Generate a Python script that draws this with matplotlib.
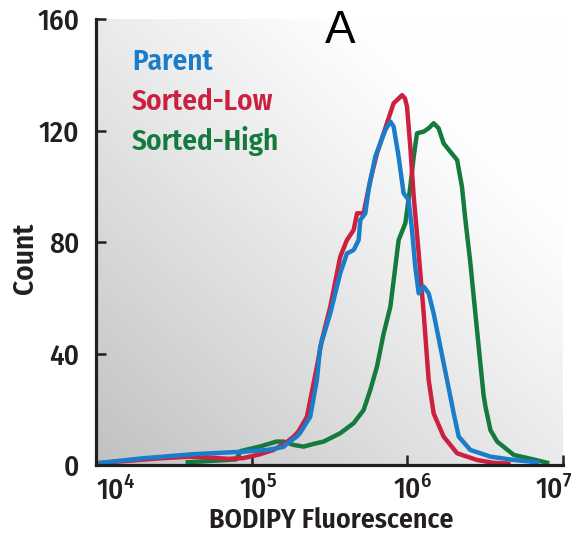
import numpy as np
import matplotlib
matplotlib.use("Agg")
import matplotlib.pyplot as plt
from matplotlib.ticker import FixedLocator, NullLocator
import matplotlib.transforms as mtransforms

# ---------------- data (log10 of fluorescence, counts) ----------------
parent_log = [4.00, 4.30, 4.63, 4.95, 5.10, 5.205, 5.23, 5.29, 5.31, 5.376, 5.419, 5.44,
              5.505, 5.569, 5.612, 5.655, 5.687, 5.698, 5.73, 5.751, 5.794, 5.826, 5.859,
              5.891, 5.912, 5.944, 5.976, 6.008, 6.03, 6.051, 6.073, 6.105, 6.137, 6.169,
              6.212, 6.255, 6.298, 6.33, 6.405, 6.534, 6.684, 6.834]
parent_cnt = [0.6, 2.4, 3.9, 4.8, 5.4, 6.5, 7.8, 10.2, 11.4, 17.3, 30.5, 42.4,
              54.4, 68.8, 75.9, 77.1, 80.7, 87.9, 90.3, 98.7, 110.6, 115.4, 120.2,
              123.2, 121.4, 110.6, 97.5, 95.1, 84.3, 71.1, 61.6, 64.0, 61.6, 54.4,
              42.4, 30.5, 18.5, 10.2, 5.4, 3.0, 1.8, 1.0]

low_log = [4.00, 4.41, 4.60, 4.70, 4.85, 4.95, 5.05, 5.14, 5.22, 5.27, 5.30, 5.355,
           5.419, 5.451, 5.505, 5.569, 5.612, 5.655, 5.677, 5.719, 5.762, 5.805, 5.869,
           5.912, 5.945, 5.966, 5.985, 5.998, 6.019, 6.041, 6.073, 6.105, 6.137, 6.169,
           6.233, 6.32, 6.448, 6.55, 6.65]
low_cnt = [0.6, 2.4, 3.0, 2.8, 2.2, 2.5, 3.8, 5.4, 8.0, 10.2, 12.0, 17.3,
           35.3, 44.8, 56.8, 74.7, 80.7, 84.3, 90.3, 90.3, 102.2, 111.8, 122.6,
           129.8, 131.5, 132.7, 131.5, 128.5, 114.2, 96.3, 75.9, 54.4, 30.5, 18.5,
           10.2, 4.2, 1.8, 0.8, 0.5]

high_log = [4.59, 4.75, 4.90, 4.93, 5.05, 5.16, 5.205, 5.27, 5.333, 5.40, 5.462, 5.569,
            5.655, 5.719, 5.762, 5.805, 5.848, 5.891, 5.923, 5.944, 5.987, 6.019, 6.041,
            6.062, 6.105, 6.137, 6.169, 6.201, 6.233, 6.276, 6.32, 6.351, 6.373, 6.405,
            6.437, 6.469, 6.49, 6.502, 6.534, 6.577, 6.684, 6.81, 6.898]
high_cnt = [1.0, 1.5, 2.0, 5.0, 6.6, 8.4, 8.4, 7.2, 6.6, 7.6, 8.4, 11.4,
            15.0, 19.7, 26.9, 35.3, 47.2, 56.8, 71.1, 80.7, 86.7, 99.8, 110.6,
            119.0, 119.6, 120.8, 122.6, 120.8, 115.4, 112.4, 109.4, 99.8, 87.9, 72.4,
            54.4, 36.5, 25.0, 20.9, 12.5, 8.4, 3.6, 2.0, 0.8]

series_names = ["Parent", "Sorted-Low", "Sorted-High"]
x_tick_exps = [4, 5, 6, 7]
y_ticks = [0, 40, 80, 120, 160]

C_BLUE = "#1b7dc9"
C_RED = "#cc2040"
C_GREEN = "#157a3e"
C_DARK = "#231f20"

NARROW = ["Fira Sans Condensed", "PT Sans Narrow", "DejaVu Sans"]
plt.rcParams["mathtext.fontset"] = "custom"
plt.rcParams["mathtext.rm"] = "Fira Sans Condensed"

fig = plt.figure(figsize=(5.77, 5.37), dpi=100)
W, H = 577, 537
ax = fig.add_axes([96 / W, 1 - 465 / H, (563 - 96) / W, (465 - 19) / H])
ax.set_facecolor("white")

# background gradient
gx, gy = np.meshgrid(np.linspace(0, 1, 300), np.linspace(0, 1, 300))
f = np.clip((1.55 - (gx + gy)) / 1.55, 0, 1)
v = 1 - 0.24 * f ** 1.1
img = np.clip(np.dstack([v * 0.995, v * 0.997, v * 1.0]), 0, 1)
ax.imshow(img, extent=[0, 1, 0, 1], origin="lower", transform=ax.transAxes,
          aspect="auto", zorder=0, interpolation="bilinear")

ax.set_xscale("log")
ax.plot(10 ** np.array(high_log), high_cnt, color=C_GREEN, lw=3.2, zorder=3,
        solid_joinstyle="round")
ax.plot(10 ** np.array(low_log), low_cnt, color=C_RED, lw=3.2, zorder=4,
        solid_joinstyle="round")
ax.plot(10 ** np.array(parent_log), parent_cnt, color=C_BLUE, lw=3.2, zorder=5,
        solid_joinstyle="round")

ax.set_xlim(1e4, 1e7)
ax.set_ylim(0, 160)

for s in ["top", "right"]:
    ax.spines[s].set_visible(False)
for s in ["left", "bottom"]:
    ax.spines[s].set_linewidth(2.3)
    ax.spines[s].set_color(C_DARK)
    ax.spines[s].set_zorder(6)

ax.xaxis.set_major_locator(FixedLocator([10.0 ** e for e in x_tick_exps]))
ax.xaxis.set_minor_locator(NullLocator())
ax.set_xticklabels([r"$\mathregular{10^{%d}}$" % e for e in x_tick_exps])
ax.yaxis.set_major_locator(FixedLocator(y_ticks))
ax.set_yticklabels([str(v) for v in y_ticks])

ax.tick_params(axis="both", direction="in", length=7, width=1.8, color=C_DARK,
               labelcolor=C_DARK, labelsize=21)
ax.tick_params(axis="y", pad=12)
ax.tick_params(axis="x", pad=8)
for lab in ax.get_xticklabels() + ax.get_yticklabels():
    lab.set_family(NARROW)
    lab.set_fontweight(500)

xl = ax.get_xticklabels()
offs = [0, 7, 5, 0]
for i, lab in enumerate(xl):
    if i == 0:
        lab.set_ha("left")
    elif i == len(xl) - 1:
        lab.set_ha("right")
        lab.set_transform(lab.get_transform() + mtransforms.ScaledTranslation(10 / 100, 0, fig.dpi_scale_trans))
    else:
        lab.set_transform(lab.get_transform() + mtransforms.ScaledTranslation(offs[i] / 100, 0, fig.dpi_scale_trans))

ax.set_xlabel("BODIPY Fluorescence", family=NARROW, fontweight=600, fontsize=20,
              color=C_DARK)
ax.xaxis.label.set_va("center")
ax.xaxis.set_label_coords(0.503, -0.124)
ax.set_ylabel("Count", family=NARROW, fontweight=600, fontsize=21, color=C_DARK)
ax.yaxis.label.set_va("center")
ax.yaxis.set_label_coords(-0.152, 0.464)

# title
ax.text((340 - 96) / 467, (465 - 43) / 446, "A", transform=ax.transAxes,
        ha="center", va="baseline", fontsize=33, family=["Liberation Sans", "DejaVu Sans"],
        color="black", zorder=7)

# legend as coloured text
leg_cols = [C_BLUE, C_RED, C_GREEN]
leg_base = [70, 110, 150]
for name, col, yb in zip(series_names, leg_cols, leg_base):
    ax.text((132 - 96) / 467, (465 - yb) / 446, name, transform=ax.transAxes,
            ha="left", va="baseline", fontsize=21, fontweight=600,
            family=NARROW, color=col, zorder=7)

fig.savefig("out.png", dpi=100)
